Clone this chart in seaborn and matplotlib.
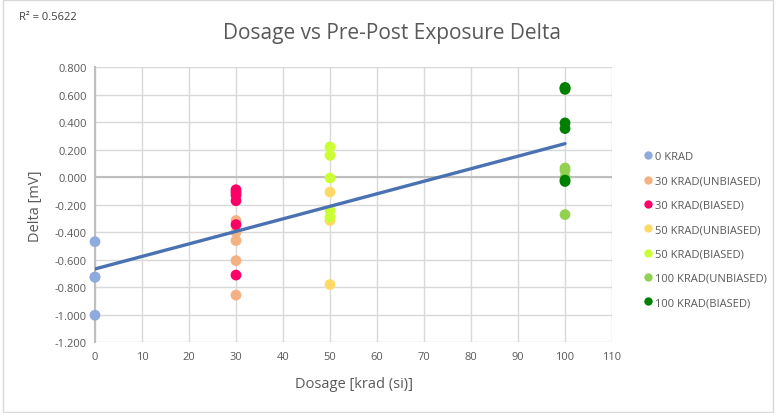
import matplotlib
matplotlib.use("Agg")
import matplotlib.pyplot as plt
from matplotlib.lines import Line2D
from matplotlib.patches import Rectangle
import numpy as np
import pandas as pd
import seaborn as sns

# Delta [mV] per group (some points overlap)
GROUPS = ["0 KRAD", "30 KRAD(UNBIASED)", "30 KRAD(BIASED)", "50 KRAD(UNBIASED)",
          "50 KRAD(BIASED)", "100 KRAD(UNBIASED)", "100 KRAD(BIASED)"]
DOSES = [0, 30, 30, 50, 50, 100, 100]
delta_0 = [-0.468, -0.726, -0.726, -1.003]
delta_30_unb = [-0.314, -0.40, -0.46, -0.606, -0.857]
delta_30_b = [-0.09, -0.11, -0.13, -0.17, -0.344, -0.711]
delta_50_unb = [-0.107, -0.314, -0.78]
delta_50_b = [0.221, 0.16, -0.005, -0.241, -0.29]
delta_100_unb = [0.068, 0.05, 0.0, -0.271]
delta_100_b = [0.654, 0.65, 0.64, 0.396, 0.355, -0.03, -0.02]
DELTAS = [delta_0, delta_30_unb, delta_30_b, delta_50_unb, delta_50_b,
          delta_100_unb, delta_100_b]

COLORS = ["#8faadc", "#f4b183", "#ff0066", "#ffd966", "#ccff33", "#92d050", "#008000"]
TEXT = "#595959"
GRID = "#d9d9d9"

frames = []
for g, d, vals in zip(GROUPS, DOSES, DELTAS):
    frames.append(pd.DataFrame({"group": g, "dose": d, "delta": vals}))
df = pd.concat(frames, ignore_index=True)

sns.set_style("white")
plt.rcParams["font.family"] = ["Open Sans", "DejaVu Sans"]

fig = plt.figure(figsize=(7.76, 4.14), dpi=100)
ax = fig.add_axes([0.1224, 0.1708, 0.6663, 0.664])

sns.scatterplot(data=df, x="dose", y="delta", hue="group", hue_order=GROUPS,
                palette=dict(zip(GROUPS, COLORS)), s=60, linewidth=0,
                legend=False, ax=ax, zorder=3, clip_on=False)

# linear trendline over all points
sns.regplot(data=df, x="dose", y="delta", scatter=False, ci=None, truncate=True,
            line_kws={"color": "#4a72b2", "lw": 2.4, "zorder": 4}, ax=ax)

ax.set_xlim(0, 110)
ax.set_ylim(-1.2, 0.8)
ax.set_xticks(np.arange(0, 111, 10))
ax.set_yticks(np.arange(-1.2, 0.81, 0.2))
ax.yaxis.set_major_formatter(matplotlib.ticker.FuncFormatter(
    lambda v, _: f"{0.0 if abs(v) < 1e-9 else v:.3f}"))
ax.grid(True, color=GRID, lw=1)
ax.set_axisbelow(True)
ax.axhline(0, color="#bfbfbf", lw=1.5, zorder=2)
for side in ["top", "right", "bottom"]:
    ax.spines[side].set_visible(False)
ax.spines["left"].set_color("#bfbfbf")
ax.spines["left"].set_linewidth(1.5)
ax.tick_params(length=0, labelsize=8, colors=TEXT, pad=6)

ax.set_xlabel("Dosage [krad (si)]", fontsize=10.5, color=TEXT, labelpad=10)
ax.set_ylabel("Delta [mV]", fontsize=10.5, color=TEXT, labelpad=8)

fig.text(0.505, 0.918, "Dosage vs Pre-Post Exposure Delta", ha="center", va="center",
         fontsize=15, color=TEXT)
fig.text(0.024, 0.958, "R² = 0.5622", ha="left", va="center", fontsize=8, color="#404040")

handles = [Line2D([0], [0], marker="o", ls="", markersize=6, markerfacecolor=c,
                  markeredgewidth=0, label=g) for g, c in zip(GROUPS, COLORS)]
leg = fig.legend(handles=handles, loc="upper left", bbox_to_anchor=(0.822, 0.643),
                 frameon=False, fontsize=8, labelspacing=1.2, handletextpad=0.1,
                 handlelength=1.0, borderaxespad=0)
for t in leg.get_texts():
    t.set_color(TEXT)

fig.patches.append(Rectangle((0.004, 0.003), 0.992, 0.994, transform=fig.transFigure,
                             fill=False, edgecolor="#d9d9d9", lw=1))

fig.savefig("out.png", dpi=100, facecolor="white")
